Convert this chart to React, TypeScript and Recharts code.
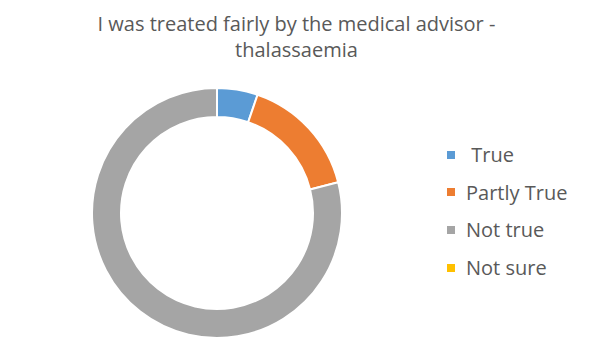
import React from "react";
import { PieChart, Pie, Cell, Legend } from "recharts";

const categories = [" True", "Partly True", "Not true", "Not sure"];
const values = [1, 3, 15, 0];
const colors = ["#5B9BD5", "#ED7D31", "#A5A5A5", "#FFC000"];
const titleLines = ["I was treated fairly by the medical advisor -", "thalassaemia"];

const data = categories.map((name, i) => ({ name, value: values[i] }));

const FONT = "'Open Sans', sans-serif";

const renderLegend = () => (
  <div style={{ fontFamily: FONT }}>
    {categories.map((c, i) => (
      <div key={c} style={{ display: "flex", alignItems: "center", height: 37.6 }}>
        <span style={{ width: 8, height: 8, background: colors[i], display: "inline-block", marginRight: 11, flexShrink: 0 }} />
        <span style={{ fontSize: 20, color: "#595959", whiteSpace: "pre" }}>{c}</span>
      </div>
    ))}
  </div>
);

export default function App() {
  return (
    <div style={{ position: "absolute", left: 0, top: 0, width: 595, height: 355, background: "#fff" }}>
      <div
        style={{
          position: "absolute",
          left: 0,
          top: 11,
          width: 593,
          textAlign: "center",
          fontFamily: FONT,
          fontSize: 20,
          lineHeight: "26px",
          color: "#595959",
        }}
      >
        {titleLines.map((l) => (
          <div key={l}>{l}</div>
        ))}
      </div>
      <PieChart width={595} height={355} style={{ position: "absolute", left: 0, top: 0 }}>
        <Pie
          data={data}
          dataKey="value"
          nameKey="name"
          cx={212}
          cy={208}
          innerRadius={96}
          outerRadius={125}
          startAngle={90}
          endAngle={-270}
          stroke="#ffffff"
          strokeWidth={2}
          isAnimationActive={false}
        >
          {data.map((d, i) => (
            <Cell key={d.name} fill={colors[i]} />
          ))}
        </Pie>
        <Legend
          content={renderLegend}
          layout="vertical"
          wrapperStyle={{ position: "absolute", left: 447, top: 136, width: 148 }}
        />
      </PieChart>
    </div>
  );
}
